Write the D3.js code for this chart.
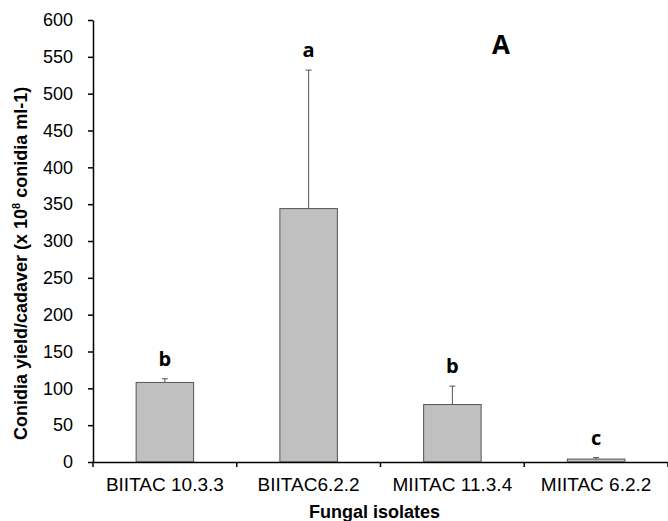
<!DOCTYPE html>
<html>
<head>
<meta charset="utf-8">
<script src="https://cdn.jsdelivr.net/npm/d3@7"></script>
<style>
  body { margin: 0; background: #fff; }
  svg text { font-family: "Liberation Sans", Arial, sans-serif; }
</style>
</head>
<body>
<svg id="chart" width="668" height="521"></svg>
<script>
  // Chart data
  const isolates = ['BIITAC 10.3.3', 'BIITAC6.2.2', 'MIITAC 11.3.4', 'MIITAC 6.2.2'];
  const yieldMeans = [108, 344, 78, 4];
  const yieldErrors = [5, 188, 25, 2];
  const groupLetters = ['b', 'a', 'b', 'c'];
  const yTicks = [0, 50, 100, 150, 200, 250, 300, 350, 400, 450, 500, 550, 600];

  const svg = d3.select('#chart');
  const margin = { left: 93, right: 0, top: 20, bottom: 59 };
  const width = 668 - margin.left - margin.right;
  const height = 521 - margin.top - margin.bottom;

  const g = svg.append('g').attr('transform', `translate(${margin.left},${margin.top})`);

  const x = d3.scaleBand().domain(isolates).range([0, width]).paddingInner(0.6).paddingOuter(0.3);
  const y = d3.scaleLinear().domain([0, 600]).range([height, 0]);

  // Bars
  g.selectAll('rect.bar')
    .data(isolates)
    .enter()
    .append('rect')
    .attr('class', 'bar')
    .attr('x', d => x(d))
    .attr('y', (d, i) => y(yieldMeans[i]))
    .attr('width', x.bandwidth())
    .attr('height', (d, i) => height - y(yieldMeans[i]))
    .attr('fill', '#c0c0c0')
    .attr('stroke', '#555')
    .attr('stroke-width', 1);

  // Error bars (upper only)
  const cap = 3;
  isolates.forEach((d, i) => {
    const cx = x(d) + x.bandwidth() / 2;
    const top = y(yieldMeans[i] + yieldErrors[i]);
    g.append('line')
      .attr('x1', cx).attr('x2', cx)
      .attr('y1', y(yieldMeans[i])).attr('y2', top)
      .attr('stroke', '#555').attr('stroke-width', 1);
    g.append('line')
      .attr('x1', cx - cap).attr('x2', cx + cap)
      .attr('y1', top).attr('y2', top)
      .attr('stroke', '#555').attr('stroke-width', 1);
  });

  // Significance letters
  g.selectAll('text.letter')
    .data(isolates)
    .enter()
    .append('text')
    .attr('class', 'letter')
    .attr('x', d => x(d) + x.bandwidth() / 2)
    .attr('y', (d, i) => y(yieldMeans[i] + yieldErrors[i]) - 13)
    .attr('text-anchor', 'middle')
    .style('font-family', '"Open Sans", sans-serif')
    .style('font-weight', 'bold')
    .style('font-size', '20px')
    .text((d, i) => groupLetters[i]);

  // Axes
  const xAxisG = g.append('g').attr('transform', `translate(0,${height})`)
    .call(d3.axisBottom(x).tickSizeOuter(0).tickFormat(() => ''));
  // ticks sit at band boundaries, not band centres
  xAxisG.selectAll('.tick').remove();
  const step = x.step();
  d3.range(isolates.length + 1).forEach(i => {
    const tx = i * step;
    xAxisG.append('line').attr('x1', tx).attr('x2', tx).attr('y1', 0).attr('y2', 5)
      .attr('stroke', '#000').attr('stroke-width', 1.5);
  });
  xAxisG.select('.domain').attr('stroke', '#000').attr('stroke-width', 1.5);

  g.selectAll('text.xlabel')
    .data(isolates)
    .enter()
    .append('text')
    .attr('class', 'xlabel')
    .attr('x', d => x(d) + x.bandwidth() / 2)
    .attr('y', height + 29)
    .attr('text-anchor', 'middle')
    .style('font-size', '19px')
    .attr('fill', '#000')
    .text(d => d);

  const yAxisG = g.append('g')
    .call(d3.axisLeft(y).tickValues(yTicks).tickSize(5).tickSizeOuter(0).tickPadding(15));
  yAxisG.select('.domain').attr('stroke', '#000').attr('stroke-width', 1.5);
  yAxisG.selectAll('.tick line').attr('stroke', '#000').attr('stroke-width', 1.5);
  yAxisG.selectAll('.tick text').style('font-size', '18px').style('font-family', '"Liberation Sans", Arial, sans-serif').attr('fill', '#000');

  // Axis titles
  svg.append('text')
    .attr('x', margin.left + width / 2 - 6)
    .attr('y', 518)
    .attr('text-anchor', 'middle')
    .style('font-size', '18px')
    .style('font-weight', 'bold')
    .text('Fungal isolates');

  // y title: start-anchored so the superscript tspans don't upset centring
  const yTitle = svg.append('text')
    .attr('transform', 'translate(27,440) rotate(-90)')
    .attr('text-anchor', 'start')
    .style('font-size', '18px')
    .style('font-weight', 'bold');
  yTitle.append('tspan').text('Conidia yield/cadaver (x 10');
  yTitle.append('tspan').attr('dy', -7).style('font-size', '11px').text('8');
  yTitle.append('tspan').attr('dy', 7).text(' conidia ml-1)');

  // Panel label
  svg.append('text')
    .attr('x', 501)
    .attr('y', 54)
    .attr('text-anchor', 'middle')
    .style('font-size', '26px')
    .style('font-weight', 'bold')
    .style('font-family', '"Open Sans", sans-serif')
    .text('A');
</script>
</body>
</html>
